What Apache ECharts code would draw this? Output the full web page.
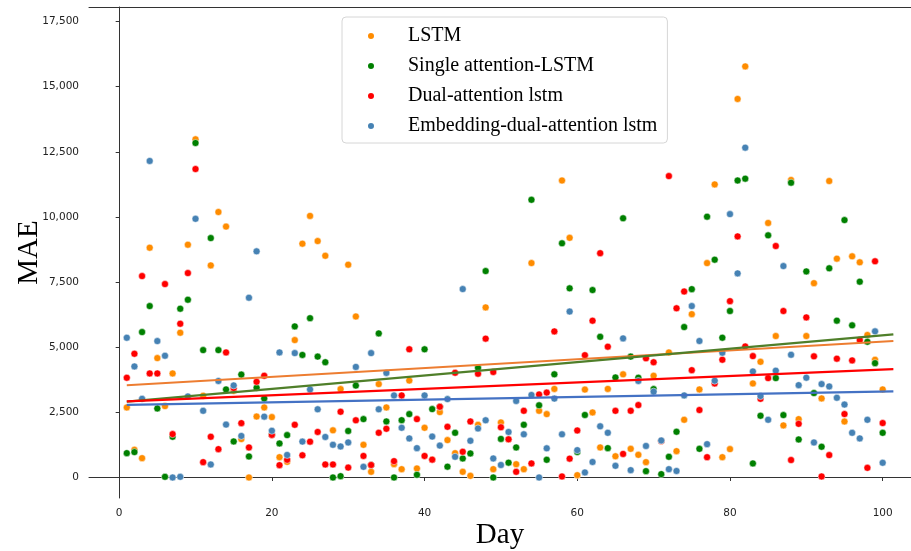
<!DOCTYPE html>
<html><head><meta charset="utf-8">
<script src="https://cdn.jsdelivr.net/npm/echarts@6/dist/echarts.min.js"></script>
<style>html,body{margin:0;padding:0;background:#fff}#c{width:911px;height:551px}</style>
</head><body><div id="c"></div>
<script>
const seriesNames = ['LSTM', 'Single attention-LSTM', 'Dual-attention lstm', 'Embedding-dual-attention lstm'];
const days = Array.from({length: 100}, (_, i) => i + 1);
const xTicks = [0, 20, 40, 60, 80, 100];
const yTicks = [0, 2500, 5000, 7500, 10000, 12500, 15000, 17500];

const lstm = [2689,1064,743,8820,4583,2740,3994,5556,8935,12980,
3140,8142,10190,9630,3330,1473,0,2340,2689,2318,
780,600,5275,8975,10040,9075,8510,1810,3393,8167,
6180,1255,218,3585,2689,513,320,3720,346,1908,
690,2510,1435,935,218,65,2023,6529,320,2113,
1470,510,320,8230,2560,2433,3400,11400,9200,90,
3375,2497,1153,3400,815,3960,1100,870,590,3905,
1400,4800,1012,2215,6270,3380,8230,11250,780,1090,
14530,15780,3610,4440,9770,5430,2000,11420,2240,5430,
7460,3035,11380,8400,2150,8490,8260,5470,4520,3380];

const single = [935,974,5582,6580,2650,26,1563,6478,6823,12840,
4890,9190,4890,3380,1383,3950,807,3445,3034,1640,
1307,1627,5800,4705,6115,4640,4425,0,52,1785,
3528,2241,480,5531,2151,0,2200,2433,103,4920,
2625,2715,415,1716,730,923,4210,7924,0,1480,
570,1153,2023,10660,2772,680,3960,8990,7260,980,
2400,7195,5400,1127,3840,9950,4640,3830,244,3393,
129,795,1755,5775,7230,1100,10010,8360,5365,6390,
11400,11470,540,2370,9295,3815,2395,11315,1460,7910,
3240,1180,8030,6020,9880,5840,7515,5210,4390,1715];

const dual = [3828,4750,7732,3994,3994,7425,1665,5902,7847,11840,
590,1563,1089,4801,3430,2087,1153,3674,3905,1635,
474,680,2023,852,1375,1748,500,500,2523,380,
2196,827,480,1716,1870,628,3150,4922,2241,827,
685,2715,1946,4020,987,2151,3982,5330,4050,1928,
1466,218,2560,540,3188,3258,5608,40,724,1805,
4695,6018,8610,5020,2560,904,2560,2780,4576,4424,
1400,11570,6495,7140,4120,2590,780,3610,4520,6770,
9255,5030,4660,3020,3815,8885,6390,670,2060,6145,
4650,40,860,4560,2435,4495,5275,370,8300,2090];

const embedding = [5364,4263,3020,12150,5236,4673,0,26,3111,9930,
2560,500,3705,2030,3534,1595,6900,8680,2336,1793,
4801,865,4775,1377,3380,2618,1556,1255,1191,1345,
4244,410,4775,2618,4014,3150,1908,1500,1127,3150,
1570,1224,3009,795,7233,1409,1883,2196,730,480,
1748,2938,1658,3168,0,1120,3028,1658,6370,1050,
193,596,1965,1716,449,5340,282,3706,1210,3296,
1420,320,250,3150,6580,5240,1280,3715,4790,10110,
7835,12660,4070,3125,2215,4100,8115,4710,3545,3830,
1345,3585,3495,3060,2800,1715,1500,2215,5610,565];

// trend lines: value at the first and last day of each fitted line
const trendDays = [1, 101.4];
const trendLstm = [3540, 5240];
const trendSingle = [2910, 5495];
const trendDual = [2925, 4160];
const trendEmbedding = [2790, 3305];

const pointColors = ['#ff8c00', '#008000', '#ff0000', '#4682b4'];
const lineColors = ['#ed7d31', '#4f7f2a', '#ff0000', '#4472c4'];
const allValues = [lstm, single, dual, embedding];
const allTrends = [trendLstm, trendSingle, trendDual, trendEmbedding];

const series = [];
allValues.forEach((vals, k) => {
  series.push({
    name: seriesNames[k], type: 'scatter', z: 2,
    data: days.map((d, i) => [d, vals[i]]),
    symbolSize: 7,
    itemStyle: { color: pointColors[k], borderColor: '#ffffff', borderWidth: 0.5, opacity: 1 },
    emphasis: { disabled: true }
  });
});
allTrends.forEach((tr, k) => {
  series.push({
    name: seriesNames[k] + ' trend', type: 'line', z: 3,
    data: trendDays.map((d, i) => [d, tr[i]]),
    showSymbol: false, symbol: 'none',
    lineStyle: { color: lineColors[k], width: 2.2 },
    emphasis: { disabled: true }, silent: true
  });
});

const chart = echarts.init(document.getElementById('c'), null, { renderer: 'canvas' });
const xMin = -3.95, xMax = 103.71;
chart.setOption({
  animation: false,
  backgroundColor: '#ffffff',
  grid: { left: 89, top: 7, right: 0, bottom: 53, show: false, containLabel: false, outerBoundsMode: 'none' },
  legend: {
    data: seriesNames, orient: 'vertical', left: 342, top: 17,
    padding: [9, 10, 7, 24], itemGap: 10, itemWidth: 8, itemHeight: 8, icon: 'circle',
    borderColor: '#d6d6d6', borderWidth: 1, borderRadius: 4, backgroundColor: 'rgba(255,255,255,0.85)',
    textStyle: { fontFamily: 'Liberation Serif', fontSize: 20, color: '#000', padding: [0, 0, 0, 28], lineHeight: 20 }
  },
  xAxis: [{
    type: 'value', min: xMin, max: xMax, position: 'bottom',
    name: 'Day', nameLocation: 'middle', nameGap: 23, nameMoveOverlap: false,
    nameTextStyle: { fontFamily: 'Liberation Serif', fontSize: 29, color: '#000' },
    axisLine: { show: true, lineStyle: { color: '#333', width: 1 } },
    axisTick: { show: true, length: 3.5, customValues: xTicks, lineStyle: { color: '#333' } },
    axisLabel: { customValues: xTicks, margin: 10, fontFamily: 'DejaVu Sans', fontSize: 10.5, color: '#222' },
    splitLine: { show: false }
  }, {
    type: 'value', min: xMin, max: xMax, position: 'top',
    axisLine: { show: true, lineStyle: { color: '#333', width: 1 } },
    axisTick: { show: false }, axisLabel: { show: false }, splitLine: { show: false }
  }],
  yAxis: {
    type: 'value', min: -787, max: 18060,
    name: 'MAE', nameLocation: 'middle', nameGap: 45, nameRotate: 90, nameMoveOverlap: false,
    nameTextStyle: { fontFamily: 'Liberation Serif', fontSize: 29, color: '#000' },
    axisLine: { show: true, lineStyle: { color: '#333', width: 1 } },
    axisTick: { show: true, length: 3.5, customValues: yTicks, lineStyle: { color: '#333' } },
    axisLabel: { customValues: yTicks, margin: 10, fontFamily: 'DejaVu Sans', fontSize: 10.5, color: '#222' },
    splitLine: { show: false }
  },
  series: series
});
</script>
</body></html>
